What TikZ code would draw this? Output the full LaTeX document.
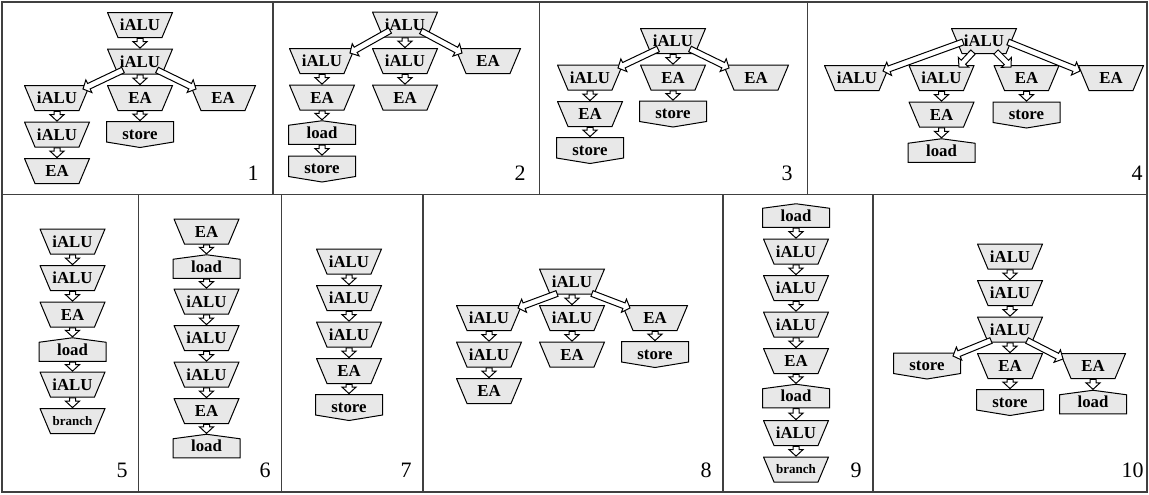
\documentclass[tikz,border=0pt]{standalone}
\usepackage{fontspec}
\setmainfont{Liberation Serif}
\usetikzlibrary{positioning}
\usetikzlibrary{calc}
\tikzset{opline/.style={draw=black, fill=black!9, line width=0.5pt}}
\tikzset{op/.style={rectangle, minimum width=33pt, minimum height=13pt, inner sep=0pt,
  font=\bfseries\fontsize{8.4}{9}\selectfont,
  path picture={\draw[opline] ([shift={(0.25pt,-0.25pt)}]path picture bounding box.north west)
    -- ([shift={(-0.25pt,-0.25pt)}]path picture bounding box.north east)
    -- ([shift={(-5.5pt,0.25pt)}]path picture bounding box.south east)
    -- ([shift={(5.5pt,0.25pt)}]path picture bounding box.south west) -- cycle;}}}
\tikzset{opst/.style={rectangle, minimum width=34pt, minimum height=13.5pt, inner sep=0pt,
  font=\bfseries\fontsize{8.4}{9}\selectfont,
  path picture={\draw[opline] ([shift={(0.25pt,-0.25pt)}]path picture bounding box.north west)
    -- ([shift={(-0.25pt,-0.25pt)}]path picture bounding box.north east)
    -- ([shift={(-0.25pt,3pt)}]path picture bounding box.south east)
    -- ([shift={(0pt,0.25pt)}]path picture bounding box.south)
    -- ([shift={(0.25pt,3pt)}]path picture bounding box.south west) -- cycle;}}}
\tikzset{opld/.style={rectangle, minimum width=34pt, minimum height=12.25pt, inner sep=0pt,
  font=\bfseries\fontsize{8.4}{9}\selectfont,
  path picture={\draw[opline] ([shift={(0.25pt,0.25pt)}]path picture bounding box.south west)
    -- ([shift={(-0.25pt,0.25pt)}]path picture bounding box.south east)
    -- ([shift={(-0.25pt,-2.5pt)}]path picture bounding box.north east)
    -- ([shift={(0pt,-0.25pt)}]path picture bounding box.north)
    -- ([shift={(0.25pt,-2.5pt)}]path picture bounding box.north west) -- cycle;}}}
\tikzset{small/.style={font=\bfseries\fontsize{6.5}{7}\selectfont}}
\tikzset{flowline/.style={draw=black, fill=white, line width=0.5pt, line join=miter}}
\tikzset{num/.style={anchor=base east, inner sep=0pt, font=\fontsize{11}{13}\selectfont}}
\tikzset{frame/.style={draw=black!75, line width=0.6pt}}

% hollow block arrow from #1 to #2
\newcommand{\flow}[2]{%
  \path (#1) coordinate (fs) (#2) coordinate (ft);
  \path ($(ft)!3.25pt!(fs)$) coordinate (fh);
  \draw[flowline] ($(fs)!1.5pt!90:(ft)$) -- ($(fh)!1.5pt!90:(ft)$)
    -- ($(fh)!3.5pt!90:(ft)$) -- (ft) -- ($(fh)!3.5pt!-90:(ft)$)
    -- ($(fh)!1.5pt!-90:(ft)$) -- ($(fs)!1.5pt!-90:(ft)$) -- cycle;
}

\begin{document}
\begin{tikzpicture}[x=0.5pt, y=-0.5pt]
\useasboundingbox (0,0) rectangle (1149,494);

%%% The frame

\draw[frame] (2,2) rectangle (1147,492);
\draw[frame] (2,194.5) -- (1147,194.5);
\foreach \x in {273,539.5,807.5} \draw[frame] (\x,2) -- (\x,194.5);
\foreach \x in {138.5,281.5,423,723,873} \draw[frame] (\x,194.5) -- (\x,492);

\begin{scope}[on grid]

%%% Block 1

\node[op] (a1) at (140,25) {iALU};
\node[op, below=18.25pt of a1] (a2) {iALU};
\node[op, below=18.25pt of a2] (a4) {EA};
\node[op, left=41.5pt of a4] (a3) {iALU};
\node[op, right=41.5pt of a4] (a5) {EA};
\node[op, below=18.25pt of a3] (a6) {iALU};
\node[op, below=18.25pt of a6] (a7) {EA};
\node[opst, below=18.25pt of a4] (a8) {store};
\node[num] (n1) at (259,180) {1};

\flow{a1.south}{a2.north}
\flow{$(a2)+(-17,8.5)$}{$(a3)+(26,-9)$}
\flow{a2.south}{a4.north}
\flow{$(a2)+(17,8.5)$}{$(a5)+(-27,-9)$}
\flow{a3.south}{a6.north}
\flow{a6.south}{a7.north}
\flow{a4.south}{a8.north}

%%% Block 2

\node[op] (b1) at (405,24.5) {iALU};
\node[op, below=18.25pt of b1] (b3) {iALU};
\node[op, left=41.5pt of b3] (b2) {iALU};
\node[op, right=41.5pt of b3] (b4) {EA};
\node[op, below=18.25pt of b2] (b5) {EA};
\node[op, below=18.25pt of b3] (b6) {EA};
\node[opld, below=17.5pt of b5] (b7) {load};
\node[opst, below=18.25pt of b7] (b8) {store};
\node[num] (n2) at (526,180) {2};

\flow{$(b1)+(-15,6)$}{$(b2)+(28,-8)$}
\flow{b1.south}{b3.north}
\flow{$(b1)+(16,6.5)$}{$(b4)+(-26,-8)$}
\flow{b2.south}{b5.north}
\flow{b3.south}{b6.north}
\flow{b5.south}{b7.north}
\flow{b7.south}{b8.north}

%%% Block 3

\node[op] (c1) at (673,41) {iALU};
\node[op, below=18.25pt of c1] (c3) {EA};
\node[op, left=41.5pt of c3] (c2) {iALU};
\node[op, right=41.5pt of c3] (c4) {EA};
\node[op, below=18.25pt of c2] (c5) {EA};
\node[opst, below=18.25pt of c3] (c6) {store};
\node[opst, below=18.25pt of c5] (c7) {store};
\node[num] (n3) at (793,180) {3};

\flow{$(c1)+(-15,8)$}{$(c2)+(28,-9.5)$}
\flow{c1.south}{c3.north}
\flow{$(c1)+(17,8)$}{$(c4)+(-27,-9.5)$}
\flow{c2.south}{c5.north}
\flow{c3.south}{c6.north}
\flow{c5.south}{c7.north}

%%% Block 4

\node[op] (d1) at (984,41) {iALU};
\node[op, below left=18.5pt and 21.25pt of d1] (d3) {iALU};
\node[op, below right=18.5pt and 21.25pt of d1] (d4) {EA};
\node[op, left=42.25pt of d3] (d2) {iALU};
\node[op, right=42.25pt of d4] (d5) {EA};
\node[op, below=18.25pt of d3] (d6) {EA};
\node[opst, below=18.5pt of d4] (d7) {store};
\node[opld, below=18pt of d6] (d8) {load};
\node[num] (n4) at (1143,180) {4};

\flow{$(d1)+(-21,1)$}{$(d2)+(26,-7)$}
\flow{$(d1)+(-11,11)$}{$(d3)+(17.5,-11)$}
\flow{$(d1)+(12,11)$}{$(d4)+(-15.5,-11)$}
\flow{$(d1)+(24,1)$}{$(d5)+(-31,-7)$}
\flow{d3.south}{d6.north}
\flow{d4.south}{d7.north}
\flow{d6.south}{d8.north}

%%% Block 5

\node[op] (e1) at (72.5,241.5) {iALU};
\node[op, below=18.25pt of e1] (e2) {iALU};
\node[op, below=18.25pt of e2] (e3) {EA};
\node[opld, below=17.5pt of e3] (e4) {load};
\node[op, below=17.5pt of e4] (e5) {iALU};
\node[op, small, below=18.25pt of e5] (e6) {branch};
\node[num] (n5) at (128,477) {5};

\flow{e1.south}{e2.north}
\flow{e2.south}{e3.north}
\flow{e3.south}{e4.north}
\flow{e4.south}{e5.north}
\flow{e5.south}{e6.north}

%%% Block 6

\node[op] (f1) at (206.5,231.5) {EA};
\node[opld, below=17.5pt of f1] (f2) {load};
\node[op, below=17.5pt of f2] (f3) {iALU};
\node[op, below=18.25pt of f3] (f4) {iALU};
\node[op, below=18.25pt of f4] (f5) {iALU};
\node[op, below=18.25pt of f5] (f6) {EA};
\node[opld, below=17.5pt of f6] (f7) {load};
\node[num] (n6) at (271,477) {6};

\flow{f1.south}{f2.north}
\flow{f2.south}{f3.north}
\flow{f3.south}{f4.north}
\flow{f4.south}{f5.north}
\flow{f5.south}{f6.north}
\flow{f6.south}{f7.north}

%%% Block 7

\node[op] (g1) at (349,261.5) {iALU};
\node[op, below=18.25pt of g1] (g2) {iALU};
\node[op, below=18.25pt of g2] (g3) {iALU};
\node[op, below=18.25pt of g3] (g4) {EA};
\node[opst, below=18.25pt of g4] (g5) {store};
\node[num] (n7) at (412,477) {7};

\flow{g1.south}{g2.north}
\flow{g2.south}{g3.north}
\flow{g3.south}{g4.north}
\flow{g4.south}{g5.north}

%%% Block 8

\node[op] (h1) at (572,281.5) {iALU};
\node[op, below=18.25pt of h1] (h3) {iALU};
\node[op, left=41.5pt of h3] (h2) {iALU};
\node[op, right=41.5pt of h3] (h4) {EA};
\node[op, below=18.25pt of h2] (h5) {iALU};
\node[op, below=18.25pt of h3] (h6) {EA};
\node[opst, below=18.25pt of h4] (h7) {store};
\node[op, below=18.25pt of h5] (h8) {EA};
\node[num] (n8) at (712,477) {8};

\flow{$(h1)+(-15,12)$}{$(h2)+(29,-10)$}
\flow{h1.south}{h3.north}
\flow{$(h1)+(20,12)$}{$(h4)+(-25,-10)$}
\flow{h2.south}{h5.north}
\flow{h3.south}{h6.north}
\flow{h4.south}{h7.north}
\flow{h5.south}{h8.north}

%%% Block 9

\node[opld] (i1) at (796,215.5) {load};
\node[op, below=18pt of i1] (i2) {iALU};
\node[op, below=18.25pt of i2] (i3) {iALU};
\node[op, below=18.25pt of i3] (i4) {iALU};
\node[op, below=18.25pt of i4] (i5) {EA};
\node[opld, below=17.5pt of i5] (i6) {load};
\node[op, below=18.5pt of i6] (i7) {iALU};
\node[op, small, below=18.25pt of i7] (i8) {branch};
\node[num] (n9) at (862,477) {9};

\flow{i1.south}{i2.north}
\flow{i2.south}{i3.north}
\flow{i3.south}{i4.north}
\flow{i4.south}{i5.north}
\flow{i5.south}{i6.north}
\flow{i6.south}{i7.north}
\flow{i7.south}{i8.north}

%%% Block 10

\node[op] (j1) at (1010,256.5) {iALU};
\node[op, below=18.25pt of j1] (j2) {iALU};
\node[op, below=18.25pt of j2] (j3) {iALU};
\node[op, below=18.25pt of j3] (j5) {EA};
\node[opst, left=41.5pt of j5] (j4) {store};
\node[op, right=41.5pt of j5] (j6) {EA};
\node[opst, below=18.25pt of j5] (j7) {store};
\node[opld, below=18pt of j6] (j8) {load};
\node[num] (n10) at (1144,477) {10};

\flow{j1.south}{j2.north}
\flow{j2.south}{j3.north}
\flow{$(j3)+(-19,11)$}{$(j4)+(26,-10)$}
\flow{j3.south}{j5.north}
\flow{$(j3)+(17,11)$}{$(j6)+(-30,-7)$}
\flow{j5.south}{j7.north}
\flow{j6.south}{j8.north}

\end{scope}
\end{tikzpicture}
\end{document}
